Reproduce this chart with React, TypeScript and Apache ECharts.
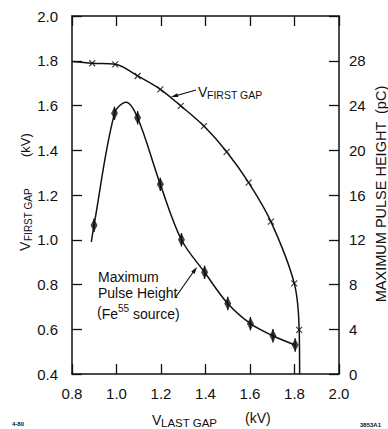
import React, { useEffect, useRef } from "react";
import * as echarts from "echarts";

// V_first gap (kV) vs V_last gap (kV) — smooth curve points
const firstGapCurve: [number, number][] = [
  [0.8, 1.797], [0.891, 1.789], [0.994, 1.784], [1.095, 1.732], [1.197, 1.672],
  [1.289, 1.598], [1.393, 1.508], [1.495, 1.393], [1.594, 1.255], [1.694, 1.081],
  [1.799, 0.805], [1.821, 0.597], [1.823, 0.4],
];
// measured points (x markers)
const firstGapPoints: [number, number][] = [
  [0.891, 1.789], [0.994, 1.784], [1.095, 1.732], [1.197, 1.672], [1.289, 1.598],
  [1.393, 1.508], [1.495, 1.393], [1.594, 1.255], [1.694, 1.081], [1.799, 0.805],
  [1.821, 0.597],
];
// Maximum pulse height (pC) vs V_last gap (kV)
const pulseCurve: [number, number][] = [
  [0.887, 11.8], [0.899, 13.3], [0.991, 23.3], [1.043, 24.3], [1.095, 22.9],
  [1.197, 16.95], [1.292, 12.0], [1.396, 9.09], [1.5, 6.3], [1.602, 4.5],
  [1.703, 3.42], [1.803, 2.59],
];
const pulsePoints: [number, number][] = [
  [0.899, 13.3], [0.991, 23.3], [1.095, 22.9], [1.197, 16.95], [1.292, 12.0],
  [1.396, 9.09], [1.5, 6.3], [1.602, 4.5], [1.703, 3.42], [1.803, 2.59],
];
const pulseError = 0.6;

const FONT = "Liberation Sans";
const INK = "#111";

export default function App() {
  const ref = useRef<HTMLDivElement>(null);
  useEffect(() => {
    if (!ref.current) return;
    const chart = echarts.init(ref.current, undefined, { renderer: "svg" });
    const axisLine = { show: true, lineStyle: { color: INK, width: 1.5 } };
    const tick = { show: true, inside: true, length: 10, lineStyle: { color: INK, width: 1.3 } };
    const label = { color: INK, fontSize: 15, fontFamily: FONT };
    const txt = (x: number, y: number, text: string, size: number, extra: any = {}) => ({
      type: "text", x, y,
      style: { text, fontSize: size, fontFamily: FONT, fill: INK, align: "left", verticalAlign: "middle", ...extra },
    });
    chart.setOption({
      animation: false,
      backgroundColor: "#fff",
      grid: { left: 72, right: 49, top: 16, bottom: 55, containLabel: false },
      xAxis: [
        {
          type: "value", min: 0.8, max: 2.0, interval: 0.2, position: "bottom",
          axisLine, axisTick: tick, splitLine: { show: false },
          axisLabel: { ...label, margin: 12, formatter: (v: number) => v.toFixed(1) },
        },
        {
          type: "value", min: 0.8, max: 2.0, interval: 0.2, position: "top",
          axisLine, axisTick: tick, splitLine: { show: false }, axisLabel: { show: false },
        },
      ],
      yAxis: [
        {
          type: "value", min: 0.4, max: 2.0, interval: 0.2, position: "left",
          axisLine, axisTick: tick, splitLine: { show: false },
          axisLabel: { ...label, margin: 14, formatter: (v: number) => v.toFixed(1) },
        },
        {
          type: "value", min: 0, max: 32, interval: 4, position: "right",
          axisLine, axisTick: tick, splitLine: { show: false },
          axisLabel: { ...label, margin: 10, formatter: (v: number) => (v >= 32 ? "" : String(v)) },
        },
      ],
      series: [
        {
          type: "line", data: firstGapCurve, yAxisIndex: 0, smooth: 0.35,
          symbol: "none", lineStyle: { color: INK, width: 1.5 },
        },
        {
          type: "scatter", data: firstGapPoints, yAxisIndex: 0,
          symbol: "path://M0,0L10,10M10,0L0,10", symbolSize: 6,
          itemStyle: { color: "none", borderColor: INK, borderWidth: 1.2 },
        },
        {
          type: "line", data: pulseCurve, yAxisIndex: 1, smooth: 0.35,
          symbol: "none", lineStyle: { color: INK, width: 1.5 },
        },
        {
          type: "custom", yAxisIndex: 1, data: pulsePoints,
          renderItem: (params: any, api: any) => {
            const x = api.value(0), y = api.value(1);
            const a = api.coord([x, y + pulseError]);
            const b = api.coord([x, y - pulseError]);
            return { type: "line", shape: { x1: a[0], y1: a[1], x2: b[0], y2: b[1] }, style: { stroke: INK, lineWidth: 1.3 } };
          },
        },
        {
          type: "scatter", data: pulsePoints, yAxisIndex: 1,
          symbol: "diamond", symbolSize: [7, 13], itemStyle: { color: INK },
        },
      ],
      graphic: [
        // left axis title
        {
          type: "group", x: 25, y: 251, rotation: Math.PI / 2,
          children: [
            txt(0, 0, "V", 14),
            txt(10, 3, "FIRST GAP", 10),
            txt(94, 0, "(kV)", 13),
          ],
        },
        // right axis title
        {
          type: "group", x: 381, y: 194, rotation: Math.PI / 2,
          children: [txt(0, 0, "MAXIMUM PULSE HEIGHT  (pC)", 14.5, { align: "center" })],
        },
        // bottom axis title
        txt(152, 420, "V", 14),
        txt(161, 423, "LAST GAP", 11.5),
        txt(245, 418, "(kV)", 14),
        // V first gap annotation
        txt(198, 92, "V", 14),
        txt(207, 95, "FIRST GAP", 10.5),
        { type: "line", shape: { x1: 196, y1: 90, x2: 175, y2: 96 }, style: { stroke: INK, lineWidth: 1.2 } },
        { type: "polygon", shape: { points: [[171, 97], [178.3, 97.0], [177.2, 93.2]] }, style: { fill: INK } },
        // pulse height annotation
        txt(98, 277, "Maximum", 14),
        txt(98, 293, "Pulse Height", 14),
        {
          type: "text", x: 97, y: 312,
          style: {
            text: "({a|Fe}{b|55}{a| source)}", fontFamily: FONT, fill: INK, verticalAlign: "middle",
            rich: {
              a: { fontSize: 14, fontFamily: FONT, fill: INK, verticalAlign: "bottom", lineHeight: 18 },
              b: { fontSize: 10, fontFamily: FONT, fill: INK, verticalAlign: "top", lineHeight: 12 },
            },
            fontSize: 14,
          },
        },
        { type: "line", shape: { x1: 175, y1: 298, x2: 194, y2: 271 }, style: { stroke: INK, lineWidth: 1.2 } },
        { type: "polygon", shape: { points: [[197, 267], [194.6, 273.9], [191.3, 271.6]] }, style: { fill: INK } },
        // corner marks
        txt(12, 424, "4-80", 6, { fontWeight: "bold" }),
        txt(360, 425, "3853A1", 6, { fontWeight: "bold" }),
      ],
    });
    return () => chart.dispose();
  }, []);
  return <div ref={ref} style={{ width: 388, height: 429, position: "absolute", left: 0, top: 0 }} />;
}
